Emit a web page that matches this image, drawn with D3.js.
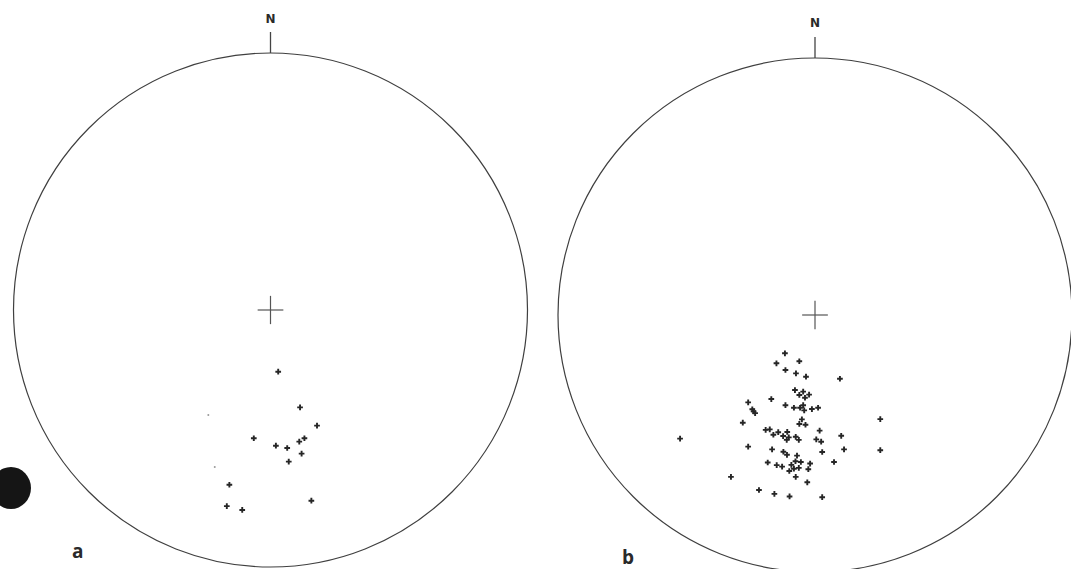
<!DOCTYPE html>
<html>
<head>
<meta charset="utf-8">
<script src="https://cdn.jsdelivr.net/npm/d3@7"></script>
<style>
  html, body { margin: 0; padding: 0; background: #fff; }
  svg { display: block; }
</style>
</head>
<body>
<svg id="chart" width="1071" height="569"></svg>
<script>
// Poles plotted on two equal-area nets, as [east, north] in units of the net radius.
const netALabel = "a";
const netBLabel = "b";
const northLabel = "N";

const netAPoles = [
  [0.030, -0.240], [0.115, -0.379], [0.181, -0.450], [-0.065, -0.499],
  [0.132, -0.499], [0.112, -0.512], [0.021, -0.528], [0.065, -0.537],
  [0.121, -0.559], [0.071, -0.590], [-0.160, -0.680], [0.159, -0.742],
  [-0.170, -0.763], [-0.110, -0.778]
];
// faint, uncertain readings on net a
const netAFaint = [[-0.242, -0.409], [-0.217, -0.611]];

const netBPoles = [
  [-0.117, -0.149], [-0.150, -0.188], [-0.061, -0.180], [-0.115, -0.214],
  [-0.074, -0.227], [-0.035, -0.240], [0.097, -0.248], [-0.078, -0.292],
  [-0.046, -0.298], [-0.061, -0.311], [-0.023, -0.310], [-0.039, -0.322],
  [-0.170, -0.327], [-0.260, -0.340], [-0.115, -0.351], [-0.082, -0.361],
  [-0.058, -0.361], [-0.046, -0.351], [-0.042, -0.371], [-0.012, -0.366],
  [0.012, -0.361], [-0.244, -0.367], [-0.239, -0.375], [-0.233, -0.382],
  [-0.281, -0.419], [-0.051, -0.406], [-0.061, -0.424], [-0.037, -0.427],
  [0.254, -0.405], [-0.192, -0.447], [-0.176, -0.445], [-0.143, -0.456],
  [-0.108, -0.455], [-0.162, -0.466], [-0.124, -0.471], [-0.102, -0.476],
  [-0.110, -0.486], [-0.075, -0.474], [-0.063, -0.486], [0.018, -0.450],
  [0.005, -0.484], [0.024, -0.493], [0.102, -0.470], [-0.525, -0.481],
  [-0.260, -0.512], [-0.167, -0.523], [-0.123, -0.532], [-0.109, -0.544],
  [-0.070, -0.547], [0.028, -0.533], [0.113, -0.523], [0.254, -0.526],
  [-0.184, -0.574], [-0.149, -0.584], [-0.128, -0.590], [-0.092, -0.583],
  [-0.076, -0.569], [-0.055, -0.572], [-0.019, -0.578], [-0.082, -0.598],
  [-0.100, -0.607], [-0.063, -0.595], [-0.026, -0.600], [0.074, -0.572],
  [-0.327, -0.630], [-0.075, -0.630], [-0.030, -0.651], [-0.218, -0.681],
  [-0.158, -0.696], [-0.099, -0.706], [0.028, -0.709]
];

const svg = d3.select("#chart");
const ink = "#262626";

// hole-punch mark on the left margin of the sheet
svg.append("ellipse")
  .attr("cx", 11).attr("cy", 488).attr("rx", 20).attr("ry", 21)
  .attr("fill", "#151515");

function drawNet(cfg) {
  const { cx, cy, R, poles, faint, label, labelX, labelY, nY } = cfg;
  const x = d3.scaleLinear().domain([-1, 1]).range([cx - R, cx + R]);
  const y = d3.scaleLinear().domain([-1, 1]).range([cy + R, cy - R]);
  const g = svg.append("g");

  // primitive circle
  g.append("circle")
    .attr("cx", x(0)).attr("cy", y(0)).attr("r", x(1) - x(0))
    .attr("fill", "none").attr("stroke", "#3f3f3f").attr("stroke-width", 1.2);

  // centre cross
  const arm = 0.05;
  g.append("line")
    .attr("x1", x(-arm)).attr("x2", x(arm)).attr("y1", y(0)).attr("y2", y(0))
    .attr("stroke", "#555").attr("stroke-width", 1.2);
  g.append("line")
    .attr("x1", x(0)).attr("x2", x(0)).attr("y1", y(-0.055)).attr("y2", y(0.055))
    .attr("stroke", "#555").attr("stroke-width", 1.2);

  // north tick and label
  g.append("line")
    .attr("x1", x(0)).attr("x2", x(0)).attr("y1", y(1)).attr("y2", y(1) - 21)
    .attr("stroke", "#444").attr("stroke-width", 1.3);
  g.append("text")
    .attr("x", x(0)).attr("y", nY)
    .attr("text-anchor", "middle")
    .attr("font-family", "'DejaVu Sans', sans-serif")
    .attr("font-weight", "bold").attr("font-size", 12)
    .attr("fill", "#2a2a2a")
    .text(northLabel);

  // poles
  const cross = d3.symbol().type(d3.symbolCross).size(18);
  g.selectAll("path.pole").data(poles).join("path")
    .attr("class", "pole")
    .attr("transform", d => `translate(${x(d[0])},${y(d[1])})`)
    .attr("d", cross)
    .attr("fill", ink);

  if (faint) {
    g.selectAll("circle.faint").data(faint).join("circle")
      .attr("class", "faint")
      .attr("cx", d => x(d[0])).attr("cy", d => y(d[1])).attr("r", 1)
      .attr("fill", "#9a9a9a");
  }

  // panel letter
  svg.append("text")
    .attr("x", labelX).attr("y", labelY)
    .attr("font-family", "'Open Sans', 'DejaVu Sans', sans-serif")
    .attr("font-weight", "bold").attr("font-size", 19)
    .attr("fill", "#2a2a2a")
    .text(label);
}

drawNet({ cx: 270.5, cy: 310, R: 257, poles: netAPoles, faint: netAFaint,
          label: netALabel, labelX: 72, labelY: 558, nY: 23 });
drawNet({ cx: 815, cy: 315, R: 257, poles: netBPoles, faint: null,
          label: netBLabel, labelX: 622, labelY: 564, nY: 27 });
</script>
</body>
</html>
